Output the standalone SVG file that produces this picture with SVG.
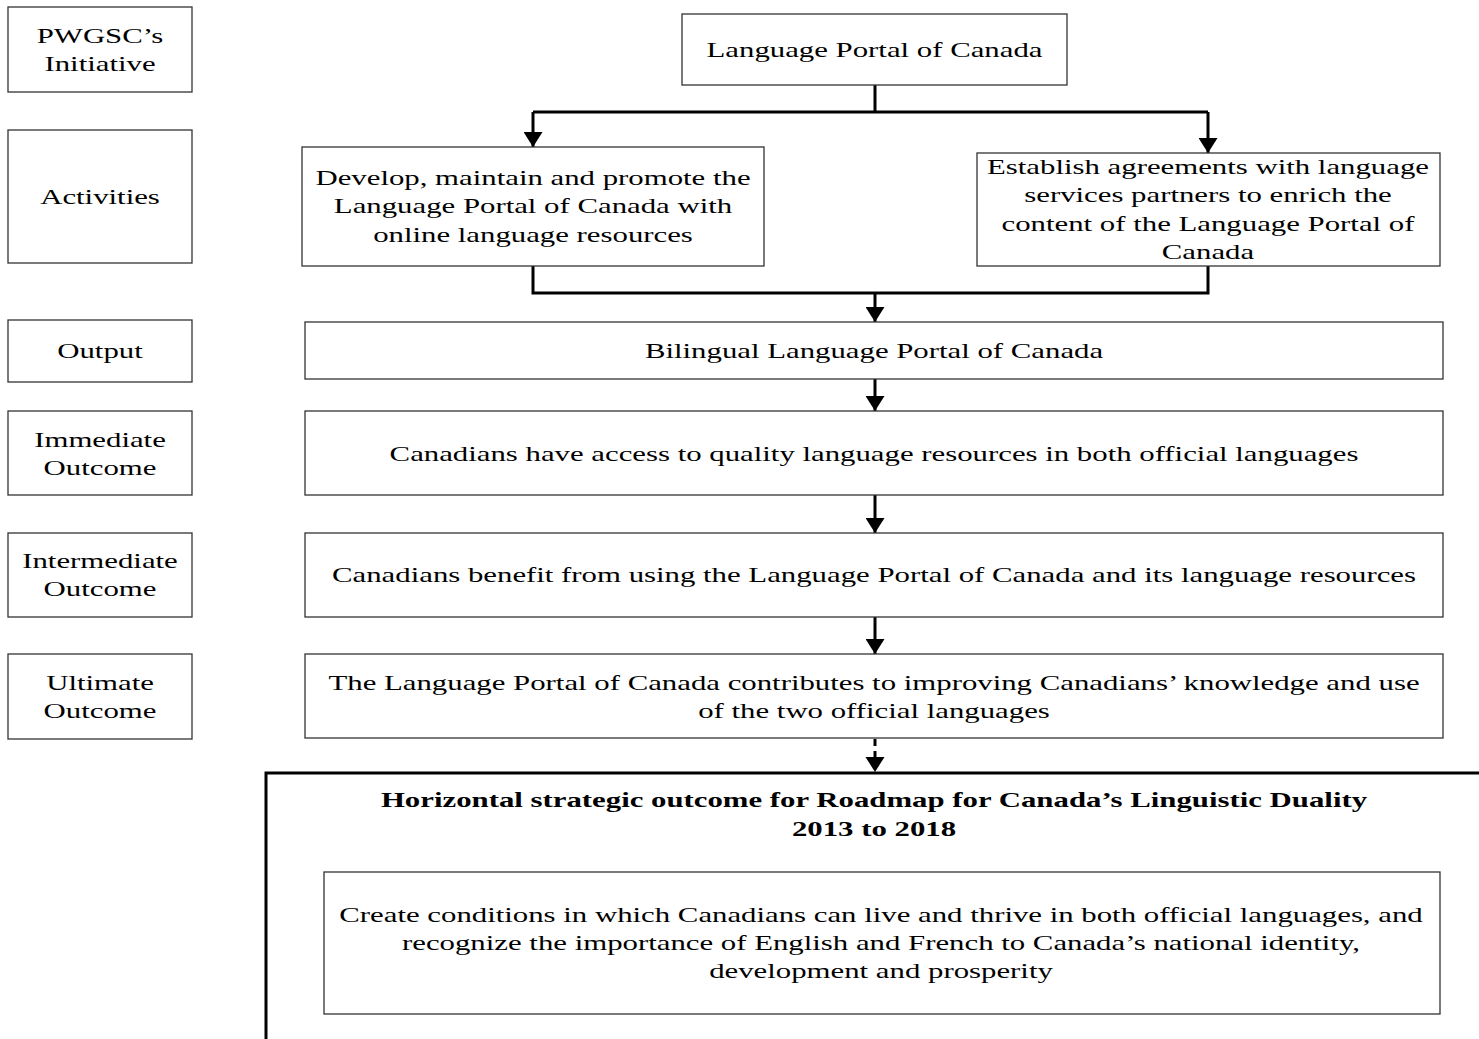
<svg xmlns="http://www.w3.org/2000/svg" width="1479" height="1039" viewBox="0 0 1479 1039">
<style>
.box{fill:#fff;stroke:#333;stroke-width:1.3}
.t{font-family:"Liberation Serif","Times New Roman",serif;font-size:22px;fill:#000;text-anchor:middle}
.b{font-weight:bold}
.c{fill:none;stroke:#000;stroke-width:3}
.d{fill:none;stroke:#000;stroke-width:3;stroke-dasharray:7 5}
.big{fill:none;stroke:#000;stroke-width:3}
</style>
<defs>
<marker id="ah" markerUnits="userSpaceOnUse" markerWidth="19" markerHeight="15" refX="9.5" refY="15" orient="0" viewBox="0 0 19 15">
<path d="M0,0 L19,0 L9.5,15 Z" fill="#000"/>
</marker>
</defs>
<rect width="1479" height="1039" fill="#fff"/>

<g id="lbl-initiative"><rect class="box" x="8" y="7" width="184" height="85"/>
<text class="t" transform="translate(100 43) scale(1.4 1)">PWGSC’s</text>
<text class="t" transform="translate(100 71) scale(1.4 1)">Initiative</text></g>
<g id="lbl-activities"><rect class="box" x="8" y="130" width="184" height="133"/>
<text class="t" transform="translate(100 204) scale(1.4 1)">Activities</text></g>
<g id="lbl-output"><rect class="box" x="8" y="320" width="184" height="62"/>
<text class="t" transform="translate(100 358) scale(1.4 1)">Output</text></g>
<g id="lbl-immediate"><rect class="box" x="8" y="411" width="184" height="84"/>
<text class="t" transform="translate(100 447) scale(1.4 1)">Immediate</text>
<text class="t" transform="translate(100 475) scale(1.4 1)">Outcome</text></g>
<g id="lbl-intermediate"><rect class="box" x="8" y="533" width="184" height="84"/>
<text class="t" transform="translate(100 568) scale(1.4 1)">Intermediate</text>
<text class="t" transform="translate(100 596) scale(1.4 1)">Outcome</text></g>
<g id="lbl-ultimate"><rect class="box" x="8" y="654" width="184" height="85"/>
<text class="t" transform="translate(100 690) scale(1.4 1)">Ultimate</text>
<text class="t" transform="translate(100 718) scale(1.4 1)">Outcome</text></g>

<g id="connectors">
<path class="c" d="M875,85 V112 M533,112 H1208"/>
<path class="c" d="M533,112 V147" marker-end="url(#ah)"/>
<path class="c" d="M1208,112 V153" marker-end="url(#ah)"/>
<path class="c" d="M533,266 V293 H1208 V266"/>
<path class="c" d="M875,293 V322" marker-end="url(#ah)"/>
<path class="c" d="M875,379 V411" marker-end="url(#ah)"/>
<path class="c" d="M875,495 V533" marker-end="url(#ah)"/>
<path class="c" d="M875,617 V654" marker-end="url(#ah)"/>
<path class="d" d="M875,739 V757"/>
<path d="M865.5,757 L884.5,757 L875,772 Z" fill="#000"/>
</g>

<g id="portal"><rect class="box" x="682" y="14" width="385" height="71"/>
<text class="t" transform="translate(874.5 57) scale(1.4 1)">Language Portal of Canada</text></g>
<g id="act-develop"><rect class="box" x="302" y="147" width="462" height="119"/>
<text class="t" transform="translate(533 185) scale(1.4 1)">Develop, maintain and promote the</text>
<text class="t" transform="translate(533 213) scale(1.4 1)">Language Portal of Canada with</text>
<text class="t" transform="translate(533 242) scale(1.4 1)">online language resources</text></g>
<g id="act-agreements"><rect class="box" x="977" y="153" width="463" height="113"/>
<text class="t" transform="translate(1208 174) scale(1.4 1)">Establish agreements with language</text>
<text class="t" transform="translate(1208 202) scale(1.4 1)">services partners to enrich the</text>
<text class="t" transform="translate(1208 231) scale(1.4 1)">content of the Language Portal of</text>
<text class="t" transform="translate(1208 259) scale(1.4 1)">Canada</text></g>
<g id="output"><rect class="box" x="305" y="322" width="1138" height="57"/>
<text class="t" transform="translate(874 358) scale(1.4 1)">Bilingual Language Portal of Canada</text></g>
<g id="immediate"><rect class="box" x="305" y="411" width="1138" height="84"/>
<text class="t" transform="translate(874 461) scale(1.4 1)">Canadians have access to quality language resources in both official languages</text></g>
<g id="intermediate"><rect class="box" x="305" y="533" width="1138" height="84"/>
<text class="t" transform="translate(874 582) scale(1.4 1)">Canadians benefit from using the Language Portal of Canada and its language resources</text></g>
<g id="ultimate"><rect class="box" x="305" y="654" width="1138" height="84"/>
<text class="t" transform="translate(874 690) scale(1.4 1)">The Language Portal of Canada contributes to improving Canadians’ knowledge and use</text>
<text class="t" transform="translate(874 718) scale(1.4 1)">of the two official languages</text></g>

<g id="strategic">
<path class="big" d="M266,1041 V773 H1482"/>
<text class="t b" transform="translate(874 807) scale(1.4 1)">Horizontal strategic outcome for Roadmap for Canada’s Linguistic Duality</text>
<text class="t b" transform="translate(874 836) scale(1.4 1)">2013 to 2018</text>
<g id="strategic-inner"><rect class="box" x="324" y="872" width="1116" height="142"/>
<text class="t" transform="translate(881 922) scale(1.4 1)">Create conditions in which Canadians can live and thrive in both official languages, and</text>
<text class="t" transform="translate(881 950) scale(1.4 1)">recognize the importance of English and French to Canada’s national identity,</text>
<text class="t" transform="translate(881 978) scale(1.4 1)">development and prosperity</text></g>
</g>
</svg>
